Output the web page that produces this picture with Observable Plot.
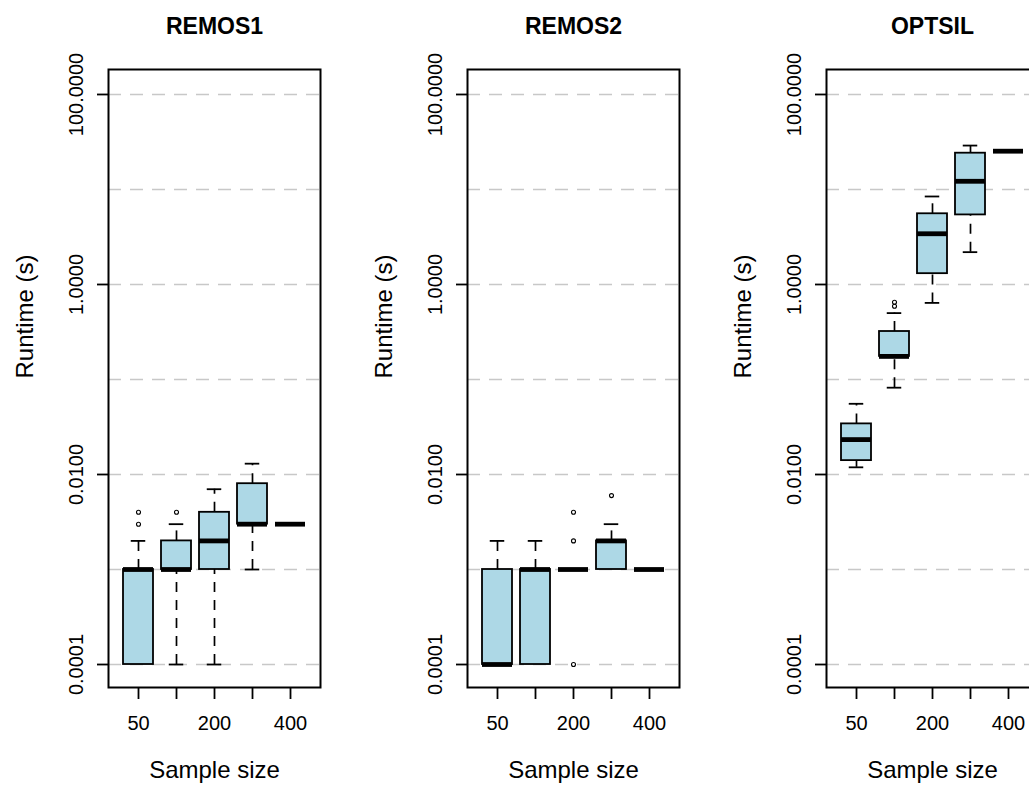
<!DOCTYPE html>
<html>
<head>
<meta charset="utf-8">
<script src="https://cdn.jsdelivr.net/npm/d3@7"></script>
<script src="https://cdn.jsdelivr.net/npm/@observablehq/plot@0.6"></script>
<style>
  html, body { margin: 0; padding: 0; background: #ffffff; overflow: hidden; }
  #row { display: flex; flex-direction: row; width: 1077px; }
  #row svg { display: block; flex: none; }
</style>
</head>
<body>
<div id="row"></div>
<script>
// ---- data ----
const methods = ["REMOS1", "REMOS2", "OPTSIL"];
const sampleSizes = [50, 100, 200, 300, 400];
const xTickLabels = ["50", "", "200", "", "400"];
const yTickValues = [0.0001, 0.01, 1, 100];
const gridValues = [0.0001, 0.001, 0.01, 0.1, 1, 10, 100];

// per method (rows) and sample size (columns)
const whiskerLow = [
  [0.0001, 0.0001, 0.0001, 0.001, 0.003],
  [0.0001, 0.0001, 0.001, 0.001, 0.001],
  [0.0119, 0.082, 0.64, 2.19, 25.3]
];
const quartile1 = [
  [0.0001, 0.001, 0.001, 0.003, 0.003],
  [0.0001, 0.0001, 0.001, 0.001, 0.001],
  [0.0140, 0.175, 1.30, 5.4, 25.3]
];
const medians = [
  [0.001, 0.001, 0.002, 0.003, 0.003],
  [0.0001, 0.001, 0.001, 0.002, 0.001],
  [0.0233, 0.175, 3.42, 12.2, 25.3]
];
const quartile3 = [
  [0.001, 0.002, 0.004, 0.008, 0.003],
  [0.001, 0.001, 0.001, 0.002, 0.001],
  [0.0341, 0.32, 5.55, 24.1, 25.3]
];
const whiskerHigh = [
  [0.002, 0.003, 0.007, 0.013, 0.003],
  [0.002, 0.002, 0.001, 0.003, 0.001],
  [0.0555, 0.50, 8.44, 29.0, 25.3]
];

// outliers
const outlierMethod = ["REMOS1", "REMOS1", "REMOS1", "REMOS2", "REMOS2", "REMOS2", "REMOS2", "OPTSIL", "OPTSIL"];
const outlierSize   = [50, 50, 100, 200, 200, 200, 300, 100, 100];
const outlierValue  = [0.003, 0.004, 0.004, 0.0001, 0.002, 0.004, 0.006, 0.59, 0.65];

// ---- drawing ----
const W = 359, H = 785;
const ML = 108, MR = 39, MT = 69, MB = 98;
const fmt4 = d3.format(".4f");
const yDomain = [Math.pow(10, -4.242), Math.pow(10, 2.263)];
const bandwidth = (W - ML - MR) / (sampleSizes.length - 0.2 + 2 * 0.335) * 0.8;
const capInset = bandwidth / 4;

function panel(mi) {
  const name = methods[mi];
  const rows = sampleSizes.map((s, j) => ({
    size: s,
    low: whiskerLow[mi][j],
    q1: quartile1[mi][j],
    med: medians[mi][j],
    q3: quartile3[mi][j],
    high: whiskerHigh[mi][j]
  }));
  const outs = outlierValue
    .map((v, k) => ({method: outlierMethod[k], size: outlierSize[k], value: v}))
    .filter(d => d.method === name);
  const boxes = rows.filter(d => d.q3 > d.q1);
  const lowWh = rows.filter(d => d.low < d.q1);
  const highWh = rows.filter(d => d.high > d.q3);
  const labelIdx = sampleSizes.map((s, j) => j).filter(j => xTickLabels[j] !== "");

  return Plot.plot({
    width: W,
    height: H,
    marginLeft: ML,
    marginRight: MR,
    marginTop: MT,
    marginBottom: MB,
    style: {fontFamily: "'Liberation Sans', Arial, sans-serif", color: "#000", background: "#fff"},
    x: {type: "band", domain: sampleSizes, paddingInner: 0.2, paddingOuter: 0.335, axis: null},
    y: {type: "log", domain: yDomain, axis: null},
    marks: [
      Plot.ruleY(gridValues, {y: d => d, stroke: "#c8c8c8", strokeWidth: 1.6, strokeDasharray: "13,9"}),
      // whiskers
      Plot.ruleX(highWh, {x: "size", y1: "q3", y2: "high", stroke: "#000", strokeWidth: 1.7, strokeDasharray: "10,8"}),
      Plot.ruleX(lowWh, {x: "size", y1: "low", y2: "q1", stroke: "#000", strokeWidth: 1.7, strokeDasharray: "10,8"}),
      Plot.tickY(highWh, {x: "size", y: "high", stroke: "#000", strokeWidth: 1.8, insetLeft: capInset, insetRight: capInset}),
      Plot.tickY(lowWh, {x: "size", y: "low", stroke: "#000", strokeWidth: 1.8, insetLeft: capInset, insetRight: capInset}),
      // boxes
      Plot.barY(boxes, {x: "size", y1: "q1", y2: "q3", fill: "#add8e6", stroke: "#000", strokeWidth: 1.8}),
      // medians
      Plot.tickY(rows, {x: "size", y: "med", stroke: "#000", strokeWidth: 4.8}),
      // outliers
      Plot.dot(outs, {x: "size", y: "value", r: 2, stroke: "#000", strokeWidth: 1.1, fill: "none"}),
      Plot.frame({stroke: "#000", strokeWidth: 2}),
      // y axis
      Plot.axisY(yTickValues, {tickSize: 11, tickFormat: () => "", label: null, stroke: "#000", strokeWidth: 1.8}),
      Plot.text(yTickValues, {y: d => d, text: d => fmt4(d), frameAnchor: "left", dx: -32, rotate: -90,
        textAnchor: "middle", lineAnchor: "middle", fontSize: 20, fill: "#000"}),
      // x axis
      Plot.axisX(sampleSizes, {tickSize: 12, tickFormat: () => "", label: null, stroke: "#000", strokeWidth: 1.8}),
      Plot.text(labelIdx, {x: j => sampleSizes[j], text: j => xTickLabels[j], frameAnchor: "bottom", dy: 36,
        lineAnchor: "middle", fontSize: 20, fill: "#000"}),
      // titles
      Plot.text([name], {text: d => d, frameAnchor: "top", dy: -43, lineAnchor: "middle", fontSize: 23, fontWeight: "bold", fill: "#000"}),
      Plot.text(["Runtime (s)"], {text: d => d, frameAnchor: "left", dx: -83, rotate: -90, lineAnchor: "middle", fontSize: 24, fill: "#000"}),
      Plot.text(["Sample size"], {text: d => d, frameAnchor: "bottom", dy: 83, lineAnchor: "middle", fontSize: 24, fill: "#000"})
    ]
  });
}

const row = document.getElementById("row");
methods.forEach((m, i) => row.appendChild(panel(i)));
</script>
</body>
</html>
